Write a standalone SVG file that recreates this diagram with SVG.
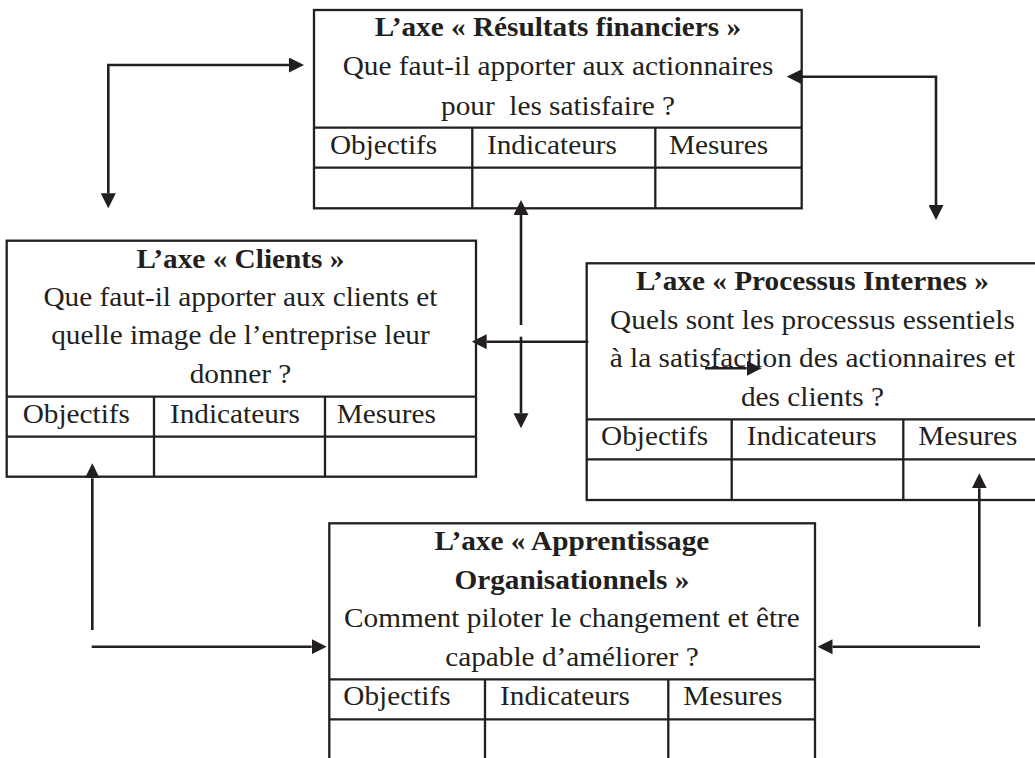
<svg xmlns="http://www.w3.org/2000/svg" width="1035" height="758" viewBox="0 0 1035 758">
  <style>
    .box { fill: #ffffff; stroke: #231f20; stroke-width: 2.3; }
    .grid { stroke: #231f20; stroke-width: 2.3; fill: none; }
    .t { font-family: "Liberation Serif", "Times New Roman", serif; font-size: 26.5px; fill: #231f20; }
    .c { text-anchor: middle; }
    .b { font-weight: bold; }
    .conn { stroke: #231f20; stroke-width: 2.6; fill: none; stroke-linejoin: miter; }
  </style>
  <defs>
    <marker id="arrow" markerUnits="userSpaceOnUse" viewBox="0 0 15 15" markerWidth="15" markerHeight="15" refX="0" refY="7.5" orient="auto-start-reverse">
      <path d="M0,0 L15,7.5 L0,15 Z" fill="#231f20"/>
    </marker>
  </defs>
  <rect x="0" y="0" width="1035" height="758" fill="#ffffff"/>

  <g id="node-resultats">
    <rect class="box" x="314" y="10" width="487.7" height="198.3"/>
    <path class="grid" d="M314,127.7 H801.7 M314,167.7 H801.7 M472.3,127.7 V208.3 M655.3,127.7 V208.3"/>
    <g transform="scale(1.105 1)">
      <text class="t c b" x="505" y="36">L’axe « Résultats financiers »</text>
      <text class="t c" x="505" y="75.5">Que faut-il apporter aux actionnaires</text>
      <text class="t c" x="505" y="115" xml:space="preserve">pour  les satisfaire ?</text>
      <text class="t" x="298.6" y="154">Objectifs</text>
      <text class="t" x="440.7" y="154">Indicateurs</text>
      <text class="t" x="605.4" y="154">Mesures</text>
    </g>
  </g>

  <g id="node-clients">
    <rect class="box" x="6.7" y="240.7" width="469.3" height="236"/>
    <path class="grid" d="M6.7,396.7 H476 M6.7,436.7 H476 M154,396.7 V476.7 M325,396.7 V476.7"/>
    <g transform="scale(1.105 1)">
      <text class="t c b" x="217.6" y="268">L’axe « Clients »</text>
      <text class="t c" x="217.6" y="306">Que faut-il apporter aux clients et</text>
      <text class="t c" x="217.6" y="344.5">quelle image de l’entreprise leur</text>
      <text class="t c" x="217.6" y="383">donner ?</text>
      <text class="t" x="20.5" y="423">Objectifs</text>
      <text class="t" x="153.8" y="423">Indicateurs</text>
      <text class="t" x="304.7" y="423">Mesures</text>
    </g>
  </g>

  <g id="node-processus">
    <rect class="box" x="586.7" y="263.3" width="452" height="236.7"/>
    <path class="grid" d="M586.7,419.3 H1038.7 M586.7,459.3 H1038.7 M731.7,419.3 V500 M903.3,419.3 V500"/>
    <g transform="scale(1.105 1)">
      <text class="t c b" x="735.3" y="290.5">L’axe « Processus Internes »</text>
      <text class="t c" x="735.3" y="329">Quels sont les processus essentiels</text>
      <text class="t c" x="735.3" y="367.5">à la satisfaction des actionnaires et</text>
      <text class="t c" x="735.3" y="406">des clients ?</text>
      <text class="t" x="543.9" y="445.3">Objectifs</text>
      <text class="t" x="675.7" y="445.3">Indicateurs</text>
      <text class="t" x="831" y="445.3">Mesures</text>
    </g>
  </g>

  <g id="node-apprentissage">
    <rect class="box" x="329.3" y="523.3" width="485.7" height="250"/>
    <path class="grid" d="M329.3,679.3 H815 M329.3,719.3 H815 M485,679.3 V775 M668.3,679.3 V775"/>
    <g transform="scale(1.105 1)">
      <text class="t c b" x="517.6" y="550.5">L’axe « Apprentissage</text>
      <text class="t c b" x="517.6" y="589">Organisationnels »</text>
      <text class="t c" x="517.6" y="627.5">Comment piloter le changement et être</text>
      <text class="t c" x="517.6" y="666">capable d’améliorer ?</text>
      <text class="t" x="310.7" y="705.3">Objectifs</text>
      <text class="t" x="452.5" y="705.3">Indicateurs</text>
      <text class="t" x="618.4" y="705.3">Mesures</text>
    </g>
  </g>

  <g id="connectors">
    <path class="conn" d="M108.3,193.3 V65 H289" marker-start="url(#arrow)" marker-end="url(#arrow)"/>
    <path class="conn" d="M801.7,76.7 H936 V205" marker-start="url(#arrow)" marker-end="url(#arrow)"/>
    <path class="conn" d="M521,325 V215" marker-end="url(#arrow)"/>
    <path class="conn" d="M521,336.7 V413.3" marker-end="url(#arrow)"/>
    <path class="conn" d="M588.3,341.7 H486.7" marker-end="url(#arrow)"/>
    <path class="conn" d="M705,368.3 H746.7" marker-end="url(#arrow)"/>
    <path class="conn" d="M92.3,630 V478.3" marker-end="url(#arrow)"/>
    <path class="conn" d="M91.7,646.7 H311.7" marker-end="url(#arrow)"/>
    <path class="conn" d="M979.3,626.7 V488.3" marker-end="url(#arrow)"/>
    <path class="conn" d="M980,646.7 H832.5" marker-end="url(#arrow)"/>
  </g>
</svg>
